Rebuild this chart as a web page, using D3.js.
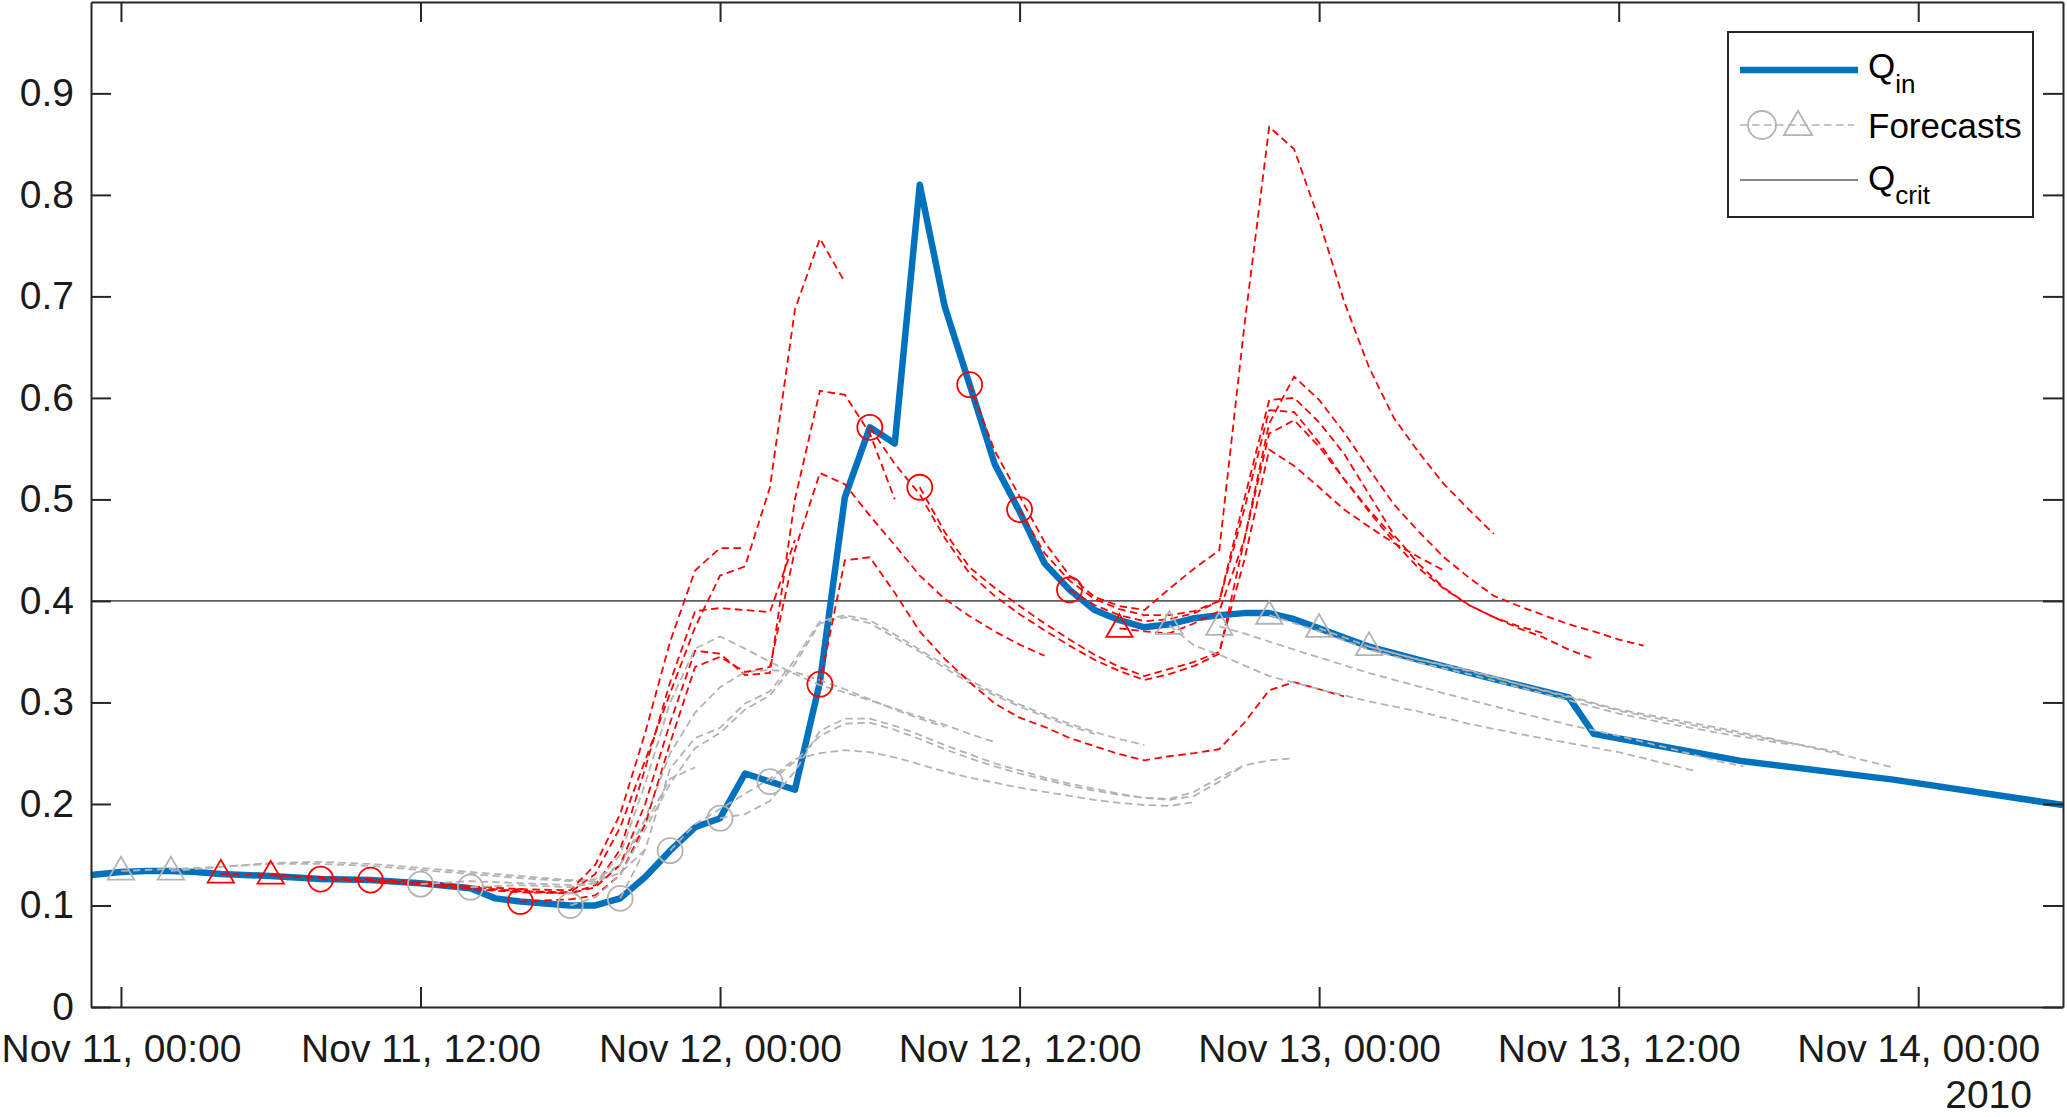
<!DOCTYPE html>
<html>
<head>
<meta charset="utf-8">
<script src="https://cdn.jsdelivr.net/npm/d3@7"></script>
<style>
html,body{margin:0;padding:0;background:#fff;}
svg{display:block;font-family:"Liberation Sans",Arial,Helvetica,sans-serif;}
</style>
</head>
<body>
<svg id="chart" width="2067" height="1117"></svg>
<script>
// ---------------- DATA (hours after Nov 11 2010 00:00, value) ----------------
const xTickHours = [0, 12, 24, 36, 48, 60, 72];
const xTickLabels = ["Nov 11, 00:00","Nov 11, 12:00","Nov 12, 00:00","Nov 12, 12:00","Nov 13, 00:00","Nov 13, 12:00","Nov 14, 00:00"];
const yearLabel = "2010";
const yTicks = [0, 0.1, 0.2, 0.3, 0.4, 0.5, 0.6, 0.7, 0.8, 0.9];
const yTickLabels = ["0","0.1","0.2","0.3","0.4","0.5","0.6","0.7","0.8","0.9"];
const xDomainHours = [-1.2, 77.8];
const yDomain = [0, 0.99];
const qcrit = 0.4;

const qinHours  = [-1.2,0,1,2,3,4,6,8,10,12,14,15,16,17,18,19,20,21,22,23,24,25,26,27,28,29,30,31,32,33,34,35,36,37,38,39,40,41,42,43,44,45,46,47,48,49,50,52,55,58,59,61,65,71,77.8];
const qinValues = [0.130,0.133,0.134,0.134,0.133,0.131,0.129,0.126,0.125,0.122,0.117,0.107,0.104,0.102,0.100,0.100,0.107,0.128,0.154,0.177,0.186,0.230,0.222,0.214,0.320,0.502,0.571,0.555,0.810,0.690,0.613,0.535,0.488,0.437,0.411,0.391,0.381,0.374,0.377,0.383,0.386,0.388,0.388,0.382,0.373,0.364,0.355,0.342,0.323,0.305,0.269,0.260,0.242,0.224,0.199];

// Forecasts: [hour, value] pairs, first pair = issue time (marker)
const fc00 = [[0,0.134],[2,0.136],[4,0.138],[6,0.141],[8,0.141],[10,0.139],[12,0.135],[14,0.131],[16,0.127],[18,0.124],[19,0.124],[20,0.132],[21,0.155]];
const fc02 = [[2,0.134],[4,0.138],[6,0.142],[8,0.143],[10,0.141],[12,0.137],[14,0.133],[16,0.129],[18,0.125],[19,0.126],[20,0.140],[21,0.180],[22,0.225],[23,0.236]];
const fc04 = [[4,0.131],[6,0.130],[8,0.128],[10,0.126],[12,0.123],[14,0.119],[16,0.116],[18,0.115],[19,0.140],[20,0.190],[21,0.270],[22,0.360],[23,0.430],[24,0.452],[25,0.452]];
const fc06 = [[6,0.130],[8,0.127],[10,0.124],[12,0.120],[14,0.116],[16,0.113],[18,0.112],[19,0.120],[20,0.155],[21,0.235],[22,0.320],[23,0.390],[24,0.393],[25,0.391],[26,0.389],[27,0.460]];
const fc08 = [[8,0.126],[10,0.124],[12,0.121],[14,0.117],[16,0.114],[18,0.113],[19,0.131],[20,0.177],[21,0.243],[22,0.309],[23,0.374],[24,0.425],[25,0.434],[26,0.512],[27,0.687],[28,0.757],[29,0.714]];
const fc10 = [[10,0.125],[12,0.122],[14,0.118],[16,0.114],[18,0.112],[19,0.118],[20,0.140],[21,0.200],[22,0.280],[23,0.351],[24,0.348],[25,0.327],[26,0.329],[27,0.500],[28,0.607],[29,0.603],[30,0.565],[31,0.500]];
const fc12 = [[12,0.121],[14,0.124],[16,0.122],[18,0.120],[19,0.122],[20,0.140],[21,0.185],[22,0.250],[23,0.290],[24,0.315],[25,0.330],[26,0.332],[27,0.330],[28,0.322],[29,0.313],[30,0.303],[31,0.293],[32,0.284],[33,0.276]];
const fc14 = [[14,0.118],[16,0.120],[18,0.118],[19,0.122],[20,0.150],[21,0.220],[22,0.300],[23,0.353],[24,0.365],[25,0.353],[26,0.340],[27,0.328],[28,0.317],[29,0.310],[30,0.302],[31,0.294],[32,0.286],[33,0.278],[34,0.269],[35,0.261]];
const fc16 = [[16,0.104],[18,0.106],[19,0.110],[20,0.130],[21,0.180],[22,0.260],[23,0.335],[24,0.345],[25,0.330],[26,0.335],[27,0.450],[28,0.526],[29,0.515],[30,0.484],[31,0.455],[32,0.425],[33,0.402],[34,0.385],[35,0.370],[36,0.357],[37,0.346]];
const fc18 = [[18,0.100],[19,0.108],[20,0.130],[21,0.175],[22,0.220],[23,0.255],[24,0.270],[25,0.293],[26,0.307],[27,0.338],[28,0.378],[29,0.384],[30,0.378],[31,0.364],[32,0.350],[33,0.334],[34,0.319],[35,0.307],[36,0.296],[37,0.286],[38,0.277],[39,0.269]];
const fc20 = [[20,0.107],[21,0.155],[22,0.235],[23,0.265],[24,0.275],[25,0.299],[26,0.311],[27,0.342],[28,0.380],[29,0.386],[30,0.381],[31,0.367],[32,0.352],[33,0.337],[34,0.322],[35,0.309],[36,0.298],[37,0.288],[38,0.279],[39,0.271],[40,0.264],[41,0.258]];
const fc22 = [[22,0.154],[23,0.180],[24,0.195],[25,0.210],[26,0.225],[27,0.244],[28,0.250],[29,0.253],[30,0.251],[31,0.246],[32,0.239],[33,0.232],[34,0.226],[35,0.221],[36,0.216],[37,0.212],[38,0.208],[39,0.204],[40,0.201],[41,0.199],[42,0.198],[43,0.202]];
const fc24 = [[24,0.186],[25,0.190],[26,0.203],[27,0.232],[28,0.272],[29,0.284],[30,0.284],[31,0.277],[32,0.268],[33,0.258],[34,0.249],[35,0.240],[36,0.233],[37,0.226],[38,0.220],[39,0.215],[40,0.210],[41,0.206],[42,0.204],[43,0.208],[44,0.222],[45,0.238]];
const fc26 = [[26,0.222],[27,0.242],[28,0.267],[29,0.279],[30,0.280],[31,0.273],[32,0.264],[33,0.254],[34,0.245],[35,0.237],[36,0.230],[37,0.224],[38,0.218],[39,0.213],[40,0.209],[41,0.206],[42,0.205],[43,0.212],[44,0.226],[45,0.238],[46,0.243],[47,0.245]];
const fc28 = [[28,0.318],[29,0.440],[30,0.443],[31,0.408],[32,0.370],[33,0.343],[34,0.320],[35,0.299],[36,0.285],[37,0.276],[38,0.265],[39,0.257],[40,0.249],[41,0.243],[42,0.247],[43,0.250],[44,0.254],[45,0.280],[46,0.312],[47,0.320],[48,0.313],[49,0.306]];
const fc30 = [[30,0.571],[31,0.535],[32,0.505],[33,0.462],[34,0.427],[35,0.405],[36,0.387],[37,0.371],[38,0.356],[39,0.342],[40,0.331],[41,0.322],[42,0.328],[43,0.336],[44,0.348],[45,0.460],[46,0.565],[47,0.578],[48,0.552],[49,0.520],[50,0.490],[51,0.462]];
const fc32 = [[32,0.512],[33,0.468],[34,0.433],[35,0.413],[36,0.395],[37,0.378],[38,0.362],[39,0.347],[40,0.335],[41,0.326],[42,0.333],[43,0.340],[44,0.350],[45,0.440],[46,0.549],[47,0.533],[48,0.512],[49,0.490],[50,0.473],[51,0.457],[52,0.443],[53,0.430]];
const fc34 = [[34,0.613],[35,0.548],[36,0.503],[37,0.458],[38,0.425],[39,0.404],[40,0.395],[41,0.391],[42,0.412],[43,0.432],[44,0.450],[45,0.670],[46,0.867],[47,0.845],[48,0.775],[49,0.695],[50,0.630],[51,0.580],[52,0.546],[53,0.515],[54,0.490],[55,0.466]];
const fc36 = [[36,0.490],[37,0.447],[38,0.420],[39,0.402],[40,0.392],[41,0.386],[42,0.386],[43,0.390],[44,0.400],[45,0.490],[46,0.588],[47,0.586],[48,0.556],[49,0.520],[50,0.488],[51,0.458],[52,0.432],[53,0.412],[54,0.396],[55,0.384],[56,0.375],[57,0.368]];
const fc38 = [[38,0.411],[39,0.396],[40,0.386],[41,0.380],[42,0.382],[43,0.388],[44,0.400],[45,0.500],[46,0.598],[47,0.600],[48,0.576],[49,0.545],[50,0.505],[51,0.465],[52,0.436],[53,0.413],[54,0.396],[55,0.384],[56,0.373],[57,0.364],[58,0.352],[59,0.343]];
const fc40 = [[40,0.373],[41,0.370],[42,0.368],[43,0.378],[44,0.390],[45,0.460],[46,0.575],[47,0.621],[48,0.598],[49,0.566],[50,0.530],[51,0.495],[52,0.468],[53,0.443],[54,0.423],[55,0.405],[56,0.395],[57,0.386],[58,0.377],[59,0.370],[60,0.362],[61,0.356]];
const fc42 = [[42,0.376],[43,0.356],[44,0.347],[46,0.326],[48,0.313],[50,0.301],[52,0.291],[54,0.279],[56,0.269],[58,0.260],[60,0.251],[62,0.239],[63,0.233]];
const fc44 = [[44,0.375],[45,0.368],[47,0.352],[50,0.329],[53,0.309],[56,0.290],[58,0.278],[60,0.267],[62,0.255],[64,0.242],[65,0.237]];
const fc46 = [[46,0.386],[48,0.370],[50,0.352],[52,0.339],[54,0.328],[56,0.315],[58,0.302],[60,0.289],[62,0.279],[64,0.270],[66,0.262],[67,0.258]];
const fc48 = [[48,0.373],[50,0.355],[52,0.342],[54,0.332],[56,0.318],[58,0.305],[60,0.292],[62,0.282],[64,0.273],[66,0.264],[68,0.255],[69,0.250]];
const fc50 = [[50,0.355],[52,0.342],[54,0.331],[56,0.318],[58,0.306],[60,0.293],[62,0.284],[64,0.275],[66,0.265],[68,0.254],[70,0.242],[71,0.236]];

const forecasts = [fc00,fc02,fc04,fc06,fc08,fc10,fc12,fc14,fc16,fc18,fc20,fc22,fc24,fc26,fc28,fc30,fc32,fc34,fc36,fc38,fc40,fc42,fc44,fc46,fc48,fc50];
const forecastMarkers = ["tri","tri","tri","tri","circ","circ","circ","circ","circ","circ","circ","circ","circ","circ","circ","circ","circ","circ","circ","circ","tri","tri","tri","tri","tri","tri"];

const legendLabels = ["Q", "in", "Forecasts", "Q", "crit"];

// ---------------- STYLE ----------------
const C_QIN = "#0072BD", C_RED = "#FF0000", C_GRAY = "#B3B3B3", C_AX = "#262626", C_CRIT = "#5F5F5F";
const W = 2067, H = 1117;
const margin = {left: 91, right: 4, top: 2, bottom: 110};

const svg = d3.select("#chart");
const base = Date.UTC(2010, 10, 11, 0, 0, 0);
const hourDate = h => new Date(base + h * 3600e3);

const x = d3.scaleUtc().domain(xDomainHours.map(hourDate)).range([margin.left, W - margin.right]);
const y = d3.scaleLinear().domain(yDomain).range([H - margin.bottom, margin.top]);

const line = d3.line().x(d => x(hourDate(d[0]))).y(d => y(d[1]));

const g = svg.append("g");

// Q_crit
g.append("path")
  .datum(xDomainHours.map(h => [h, qcrit]))
  .attr("d", line).attr("fill","none").attr("stroke", C_CRIT).attr("stroke-width", 1.7);

// Q_in
g.append("path")
  .datum(qinHours.map((h,i) => [h, qinValues[i]]))
  .attr("d", line).attr("fill","none").attr("stroke", C_QIN)
  .attr("stroke-width", 6.5).attr("stroke-linejoin","round");

const colorOf = fc => d3.max(fc, d => d[1]) > qcrit ? C_RED : C_GRAY;

// forecast lines
g.append("g").selectAll("path").data(forecasts).join("path")
  .attr("d", line).attr("fill","none")
  .attr("stroke", d => colorOf(d))
  .attr("stroke-width", 1.8).attr("stroke-dasharray","7.5,4.5");

// markers
const triPath = d3.symbol().type(d3.symbolTriangle).size(300)();
const mk = g.append("g");
forecasts.forEach((fc, i) => {
  const p = fc[0];
  const cx = x(hourDate(p[0])), cy = y(p[1]);
  const col = colorOf(fc);
  if (forecastMarkers[i] === "circ") {
    mk.append("circle").attr("cx", cx).attr("cy", cy).attr("r", 12.5)
      .attr("fill","none").attr("stroke", col).attr("stroke-width", 1.8);
  } else {
    mk.append("path").attr("d", triPath).attr("transform", `translate(${cx},${cy + 1})`)
      .attr("fill","none").attr("stroke", col).attr("stroke-width", 1.8);
  }
});

// ---------------- AXES ----------------
const fontTick = 39;
const xAxis = d3.axisBottom(x)
  .tickValues(xTickHours.map(hourDate))
  .tickFormat((d,i) => xTickLabels[i])
  .tickSizeInner(-20).tickSizeOuter(0).tickPadding(27);
const gx = svg.append("g").attr("transform", `translate(0,${H - margin.bottom})`).call(xAxis);

const xTop = d3.axisTop(x).tickValues(xTickHours.map(hourDate)).tickFormat("")
  .tickSizeInner(-20).tickSizeOuter(0);
const gxt = svg.append("g").attr("transform", `translate(0,${margin.top})`).call(xTop);

const yAxis = d3.axisLeft(y).tickValues(yTicks).tickFormat((d,i) => yTickLabels[i])
  .tickSizeInner(-20).tickSizeOuter(0).tickPadding(17);
const gy = svg.append("g").attr("transform", `translate(${margin.left},0)`).call(yAxis);

const yRight = d3.axisRight(y).tickValues(yTicks).tickFormat("")
  .tickSizeInner(-20).tickSizeOuter(0);
const gyr = svg.append("g").attr("transform", `translate(${W - margin.right},0)`).call(yRight);

[gx, gxt, gy, gyr].forEach(a => {
  a.selectAll(".domain").attr("stroke", C_AX).attr("stroke-width", 2);
  a.selectAll(".tick line").attr("stroke", C_AX).attr("stroke-width", 2);
  a.selectAll(".tick text").attr("fill", "#1a1a1a").style("font-size", fontTick + "px")
    .style("font-family", '"Liberation Sans", Arial, sans-serif');
});

svg.append("text").attr("x", W - 35).attr("y", H - 9).attr("text-anchor","end")
  .attr("fill","#1a1a1a").style("font-size", fontTick + "px").text(yearLabel);

// ---------------- LEGEND ----------------
const lg = svg.append("g");
const lx = 1728, ly = 32, lw = 305, lh = 185;
lg.append("rect").attr("x", lx).attr("y", ly).attr("width", lw).attr("height", lh)
  .attr("fill","#fff").attr("stroke", C_AX).attr("stroke-width", 2);
const fontLeg = 35, fontSub = 26;
// row 1
lg.append("line").attr("x1", lx+12).attr("x2", lx+130).attr("y1", ly+38).attr("y2", ly+38)
  .attr("stroke", C_QIN).attr("stroke-width", 6.5);
const t1 = lg.append("text").attr("x", lx+140).attr("y", ly+46).attr("fill","#000").style("font-size", fontLeg+"px");
t1.append("tspan").text(legendLabels[0]);
t1.append("tspan").attr("dy", 15).style("font-size", fontSub+"px").text(legendLabels[1]);
// row 2
lg.append("line").attr("x1", lx+12).attr("x2", lx+126).attr("y1", ly+93).attr("y2", ly+93)
  .attr("stroke", C_GRAY).attr("stroke-width", 1.7).attr("stroke-dasharray","7.5,4.5");
lg.append("circle").attr("cx", lx+34).attr("cy", ly+93).attr("r", 14)
  .attr("fill","none").attr("stroke", C_GRAY).attr("stroke-width", 1.8);
lg.append("path").attr("d", d3.symbol().type(d3.symbolTriangle).size(340)())
  .attr("transform", `translate(${lx+70},${ly+95})`)
  .attr("fill","none").attr("stroke", C_GRAY).attr("stroke-width", 1.8);
lg.append("text").attr("x", lx+140).attr("y", ly+106).attr("fill","#000")
  .style("font-size", fontLeg+"px").text(legendLabels[2]);
// row 3
lg.append("line").attr("x1", lx+12).attr("x2", lx+130).attr("y1", ly+148).attr("y2", ly+148)
  .attr("stroke", C_CRIT).attr("stroke-width", 1.7);
const t3 = lg.append("text").attr("x", lx+140).attr("y", ly+158).attr("fill","#000").style("font-size", fontLeg+"px");
t3.append("tspan").text(legendLabels[3]);
t3.append("tspan").attr("dy", 14).style("font-size", fontSub+"px").text(legendLabels[4]);
</script>
</body>
</html>
